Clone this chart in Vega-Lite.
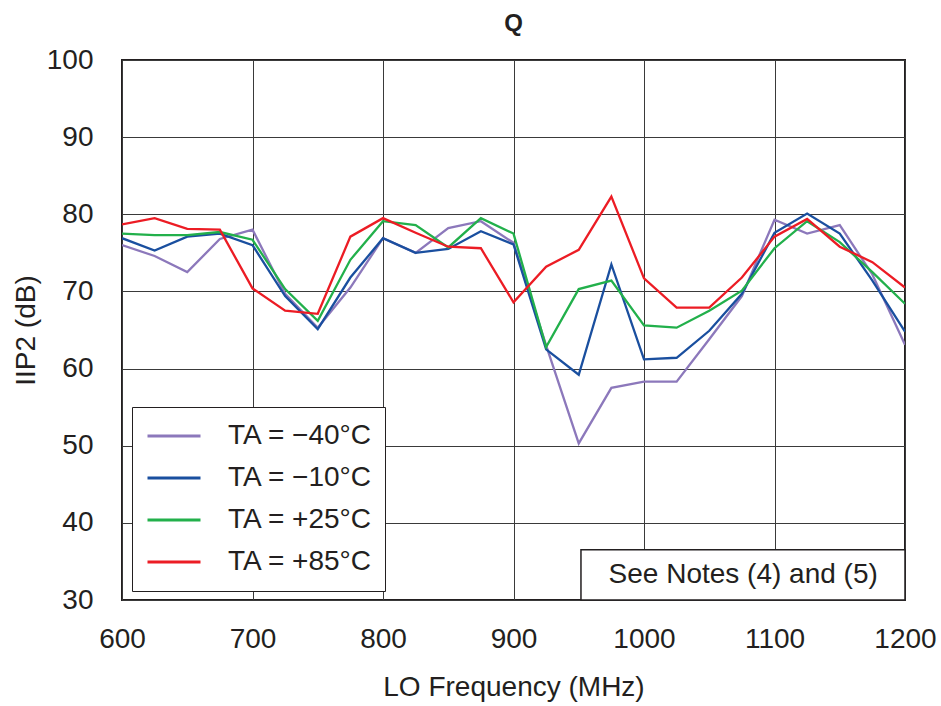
{
  "$schema": "https://vega.github.io/schema/vega-lite/v6.json",
  "width": 783,
  "height": 540,
  "autosize": {"type": "none"},
  "padding": {"left": 122, "top": 60, "right": 36, "bottom": 106},
  "background": "white",
  "title": {"text": "Q", "fontSize": 24, "fontWeight": "bold", "font": "Liberation Sans", "offset": 10, "color": "#231f20"},
  "config": {"view": {"stroke": "#231f20", "strokeWidth": 2}, "font": "Liberation Sans"},
  "datasets": {
    "wide": [
      {"freq": 600, "a": 76.0, "b": 76.9, "c": 77.5, "d": 78.7},
      {"freq": 625, "a": 74.6, "b": 75.3, "c": 77.3, "d": 79.5},
      {"freq": 650, "a": 72.5, "b": 77.1, "c": 77.3, "d": 78.1},
      {"freq": 675, "a": 76.8, "b": 77.5, "c": 77.7, "d": 78.0},
      {"freq": 700, "a": 78.0, "b": 76.0, "c": 76.7, "d": 70.4},
      {"freq": 725, "a": 69.7, "b": 69.4, "c": 70.3, "d": 67.5},
      {"freq": 750, "a": 65.3, "b": 65.1, "c": 66.2, "d": 67.1},
      {"freq": 775, "a": 70.5, "b": 71.8, "c": 74.1, "d": 77.1},
      {"freq": 800, "a": 76.9, "b": 76.9, "c": 79.1, "d": 79.5},
      {"freq": 825, "a": 75.0, "b": 75.0, "c": 78.6, "d": 77.6},
      {"freq": 850, "a": 78.2, "b": 75.5, "c": 75.7, "d": 75.8},
      {"freq": 875, "a": 79.1, "b": 77.8, "c": 79.5, "d": 75.6},
      {"freq": 900, "a": 76.3, "b": 76.1, "c": 77.5, "d": 68.6},
      {"freq": 925, "a": 63.0, "b": 62.5, "c": 62.8, "d": 73.2},
      {"freq": 950, "a": 50.3, "b": 59.2, "c": 70.3, "d": 75.4},
      {"freq": 975, "a": 57.5, "b": 73.5, "c": 71.4, "d": 82.3},
      {"freq": 1000, "a": 58.3, "b": 61.2, "c": 65.6, "d": 71.7},
      {"freq": 1025, "a": 58.3, "b": 61.4, "c": 65.3, "d": 67.9},
      {"freq": 1050, "a": 63.8, "b": 64.9, "c": 67.5, "d": 67.9},
      {"freq": 1075, "a": 69.4, "b": 69.7, "c": 70.1, "d": 71.8},
      {"freq": 1100, "a": 79.3, "b": 77.6, "c": 75.6, "d": 77.1},
      {"freq": 1125, "a": 77.5, "b": 80.1, "c": 79.1, "d": 79.4},
      {"freq": 1150, "a": 78.6, "b": 77.5, "c": 76.4, "d": 75.8},
      {"freq": 1175, "a": 72.2, "b": 71.4, "c": 72.5, "d": 73.8},
      {"freq": 1200, "a": 63.1, "b": 64.8, "c": 68.4, "d": 70.5}
    ]
  },
  "layer": [
    {
      "data": {"name": "wide"},
      "transform": [{"fold": ["a", "b", "c", "d"], "as": ["series", "iip2"]}],
      "mark": {"type": "line", "strokeWidth": 2.3, "clip": true},
      "encoding": {
        "x": {
          "field": "freq", "type": "quantitative",
          "scale": {"domain": [600, 1200], "nice": false, "zero": false},
          "axis": {
            "values": [600, 700, 800, 900, 1000, 1100, 1200],
            "format": "d",
            "title": "LO Frequency (MHz)",
            "grid": true, "gridColor": "#3a3a3a", "gridWidth": 1, "gridOpacity": 1,
            "domain": false, "ticks": false,
            "labelFontSize": 28, "labelColor": "#231f20", "labelPadding": 25, "labelFlush": false,
            "titleFontSize": 28, "titleFontWeight": "normal", "titleColor": "#231f20", "titlePadding": 20
          }
        },
        "y": {
          "field": "iip2", "type": "quantitative",
          "scale": {"domain": [30, 100], "nice": false, "zero": false},
          "axis": {
            "values": [30, 40, 50, 60, 70, 80, 90, 100],
            "title": "IIP2 (dB)",
            "grid": true, "gridColor": "#3a3a3a", "gridWidth": 1, "gridOpacity": 1,
            "domain": false, "ticks": false,
            "labelFontSize": 28, "labelColor": "#231f20", "labelPadding": 29,
            "titleFontSize": 28, "titleFontWeight": "normal", "titleColor": "#231f20", "titlePadding": 6
          }
        },
        "color": {
          "field": "series", "type": "nominal",
          "scale": {"domain": ["a", "b", "c", "d"], "range": ["#8c78bb", "#1a4f9f", "#22b04b", "#ec1c24"]},
          "legend": {
            "orient": "none", "legendX": 10, "legendY": 347,
            "title": null,
            "labelExpr": "datum.value == 'a' ? 'TA = −40°C' : datum.value == 'b' ? 'TA = −10°C' : datum.value == 'c' ? 'TA = +25°C' : 'TA = +85°C'",
            "fillColor": "white", "strokeColor": "#231f20",
            "symbolType": "stroke", "symbolSize": 2809, "symbolStrokeWidth": 3,
            "labelFontSize": 28, "labelColor": "#231f20", "labelOffset": 26, "labelLimit": 400,
            "padding": 12, "symbolOffset": 2, "clipHeight": 34, "rowPadding": 8
          }
        }
      }
    },
    {
      "data": {"values": [{}]},
      "mark": {"type": "rect", "fill": "white", "stroke": "#231f20", "strokeWidth": 1.5},
      "encoding": {
        "x": {"datum": 951.7, "type": "quantitative"},
        "x2": {"datum": 1200},
        "y": {"datum": 30, "type": "quantitative"},
        "y2": {"datum": 36.5}
      }
    },
    {
      "data": {"values": [{}]},
      "mark": {"type": "text", "fontSize": 28, "color": "#231f20", "align": "center", "baseline": "middle"},
      "encoding": {
        "x": {"datum": 1076, "type": "quantitative"},
        "y": {"datum": 33.2, "type": "quantitative"},
        "text": {"value": "See Notes (4) and (5)"}
      }
    }
  ]
}
